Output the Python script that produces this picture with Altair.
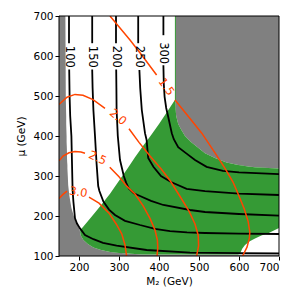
import altair as alt
import pandas as pd

# ---------------- axes ----------------
X_DOMAIN = [150, 700]
Y_DOMAIN = [100, 700]
X_TICKS = [200, 300, 400, 500, 600, 700]
Y_TICKS = [100, 200, 300, 400, 500, 600, 700]

# ---------------- regions ----------------
# white (allowed) region: at each mu, from left gray edge to right gray edge
white_mu = [103.5, 104, 106, 110, 115, 121, 130, 140, 150, 160, 165, 172, 185, 200, 220, 250,
            277, 300, 319, 320.5, 323, 327.5, 334, 345, 357, 374, 385, 400, 415, 430, 450,
            470, 500, 600, 700]
white_left = [380, 360, 320, 278, 255, 236, 222, 211, 205, 202.5, 202, 199, 192, 187, 181, 176,
              173, 172, 171, 171, 171, 171, 170.5, 170, 170, 169.5, 169, 169, 168.5, 168, 168,
              167.5, 167, 166.5, 166]
white_right = [700, 700, 700, 700, 700, 700, 700, 700, 700, 700, 700, 700, 700, 700, 700, 700,
               700, 700, 700, 660, 627, 598, 569, 540, 515, 494, 480, 465, 456, 448, 443,
               441, 441, 441, 441]

# green region: at each M2, from lower to upper edge
green_x = [203, 205, 211, 222, 236, 255, 278, 300, 320, 340, 360, 380, 400, 420, 441, 441.5,
           443, 448, 456, 465, 480, 494, 515, 540, 569, 598, 603, 608, 615, 627, 640, 656, 673, 700]
green_lo = [158, 150, 140, 130, 121, 115, 110, 107.5, 106, 105, 104, 103.5, 103.5, 103.5, 103.5,
            103.5, 103.5, 103.5, 103.5, 103.5, 103.5, 103.5, 103.5, 103.5, 103.5, 103.5, 107, 118,
            127.5, 137, 144, 151, 157, 170]
green_hi = [165, 167, 174, 187, 204, 227, 256, 288, 317, 347, 375, 402, 430, 460, 492, 468,
            450, 430, 415, 400, 385, 374, 357, 345, 334, 327.5, 327, 326, 325, 323, 322, 321, 320, 319]

green_edge_x = [441, 441]
green_edge_mu = [490, 700]

# ---------------- black contours (two segments each: above / below the label) ----------------
black = {
    "100": ([175, 175], [700, 632],
            [175.5, 176.5, 178, 181, 184, 186, 190, 195, 202.5, 215, 236, 260, 294, 369, 477.5, 600, 700],
            [566, 500, 450, 400, 265, 236, 194, 181, 169, 152.5, 142, 133, 126, 115, 108.5, 107, 106.5]),
    "150": ([233, 233], [700, 632],
            [233, 234, 236, 240, 244, 248, 251, 261, 275, 290, 315, 352.5, 390, 427.5, 470, 515, 600, 700],
            [566, 520, 465, 400, 330, 275, 262.5, 236, 216, 202.5, 188, 177.5, 168, 162, 159, 157.5, 156, 155]),
    "200": ([292.5, 292.5], [700, 632],
            [293, 293.5, 294, 297, 302.5, 312, 318, 325, 337, 352.5, 380, 410.8, 477.5, 515, 600, 700],
            [566, 520, 465, 400, 340, 300, 283, 268, 257, 250, 238, 227.5, 215, 210, 205, 201]),
    "250": ([348, 348], [700, 632],
            [351, 353, 357, 365, 369, 373, 386, 405, 430, 469, 515, 600, 700],
            [565, 520, 465, 407, 390, 345, 323, 300, 285, 268, 262, 256, 252.5]),
    "300": ([411, 411], [700, 652],
            [411, 412, 414, 418, 423, 428, 432, 437, 448, 469, 490, 519, 560, 600, 700],
            [577, 530, 498, 470, 448, 425, 407, 392, 372, 356, 340, 323, 313, 309, 304.5]),
}
black_label_x = [175, 233, 292.5, 349.5, 411]
black_label_mu = [598, 598, 598, 598, 607]
black_label_text = ["100", "150", "200", "250", "300"]

# ---------------- orange contours ----------------
orange = {
    "1.5": ([277.5, 327.5, 360, 394], [700, 640, 598, 552.5],
            [440, 475, 507, 540, 565, 585, 600, 613, 623, 627, 626, 620, 609],
            [490, 447, 407, 358, 319, 285, 250, 218, 186, 160, 145, 122, 100]),
    "2.0": ([150, 170, 190, 210, 235, 265], [479, 497, 504, 502, 491, 469],
            [325, 350, 377.5, 405, 428, 455, 475, 490, 498, 499, 494],
            [418, 384, 350, 318, 288, 245, 212, 180, 152, 125, 100]),
    "2.5": ([150, 160, 175, 190, 205, 215], [338, 350, 358, 361, 360, 357],
            [277, 300, 320, 340, 360, 377.5, 390, 396, 397, 395],
            [322, 298, 274, 255, 226, 194, 165, 140, 120, 100]),
    "3.0": ([150, 160, 170], [244, 254, 262],
            [225, 250, 275, 293, 307, 315, 319],
            [247, 232, 207, 180, 155, 128, 100]),
}
orange_label_x = [417, 296.5, 246, 198]
orange_label_mu = [522, 446, 344, 258]
orange_label_text = ["1.5", "2.0", "2.5", "3.0"]
orange_label_angle = [54, 40, 24, 10]

BLACK = "#000000"
ORANGE = "#ff4500"
GREEN = "#359a35"
GRAY = "#808080"

# ---------------- build tables ----------------
rows = []
for name, (x1, y1, x2, y2) in list(black.items()) + list(orange.items()):
    col = BLACK if name in black else ORANGE
    w = 1.8 if name in black else 1.5
    for s, (xs_, ys_) in enumerate([(x1, y1), (x2, y2)]):
        for i, (a, b) in enumerate(zip(xs_, ys_)):
            rows.append({"seg": f"{name}_{s}", "x": a, "mu": b, "i": i, "col": col, "w": w})
lines_df = pd.DataFrame(rows)

white_df = pd.DataFrame({"mu": white_mu, "xl": white_left, "xr": white_right})
green_df = pd.DataFrame({"x": green_x, "lo": green_lo, "hi": green_hi})
edge_df = pd.DataFrame({"x": green_edge_x, "mu": green_edge_mu, "i": [0, 1]})

labels_df = pd.DataFrame({
    "x": black_label_x + orange_label_x,
    "mu": black_label_mu + orange_label_mu,
    "t": black_label_text + orange_label_text,
    "angle": [90] * 5 + orange_label_angle,
    "col": [BLACK] * 5 + [ORANGE] * 4,
})
frame_df = pd.DataFrame({"x": [X_DOMAIN[0]], "x2": [X_DOMAIN[1]], "y": [Y_DOMAIN[0]], "y2": [Y_DOMAIN[1]]})

xs = alt.Scale(domain=X_DOMAIN, nice=False, zero=False)
ys = alt.Scale(domain=Y_DOMAIN, nice=False, zero=False)


def X(f):
    return alt.X(f, scale=xs, axis=alt.Axis(values=X_TICKS, title="M₂ (GeV)", format="d",
                                            labelOverlap=False, labelFlush=True))


def Y(f):
    return alt.Y(f, scale=ys, axis=alt.Axis(values=Y_TICKS, title="μ (GeV)", format="d",
                                            labelOverlap=False, labelFlush=False))


white = alt.Chart(white_df).mark_area(orient="horizontal", color="white").encode(
    y=Y("mu:Q"), x=X("xl:Q"), x2="xr:Q",
)
green = alt.Chart(green_df).mark_area(orient="vertical", color=GREEN).encode(
    x=X("x:Q"), y=Y("lo:Q"), y2="hi:Q",
)
edge = alt.Chart(edge_df).mark_line(color=GREEN, strokeWidth=1).encode(
    x=X("x:Q"), y=Y("mu:Q"), order="i:Q",
)
lines = alt.Chart(lines_df).mark_line(clip=True).encode(
    x=X("x:Q"), y=Y("mu:Q"),
    detail="seg:N",
    order="i:Q",
    color=alt.Color("col:N", scale=None),
    strokeWidth=alt.StrokeWidth("w:Q", scale=None),
)
labels = alt.Chart(labels_df).mark_text(font="DejaVu Sans", fontSize=11.5, align="center",
                                        baseline="middle").encode(
    x=X("x:Q"), y=Y("mu:Q"),
    text="t:N",
    angle=alt.Angle("angle:Q", scale=None),
    color=alt.Color("col:N", scale=None),
)
frame = alt.Chart(frame_df).mark_rect(filled=False, color="black", strokeWidth=1).encode(
    x=X("x:Q"), x2="x2:Q", y=Y("y:Q"), y2="y2:Q"
)

chart = alt.layer(white, green, edge, lines, labels, frame).properties(
    width=220, height=240,
    padding={"left": 51, "top": 8, "right": 5, "bottom": 34},
    autosize=alt.AutoSizeParams(type="none"),
).configure_view(fill=GRAY, stroke=None).configure_axis(
    grid=False, domain=False, tickColor="black", tickSize=4, labelPadding=2,
    labelFont="DejaVu Sans", labelFontSize=10.5, labelColor="black",
    labelOverlap=False,
    titleFont="DejaVu Sans", titleFontSize=10.5, titleFontWeight="normal", titleColor="black",
).configure_axisY(titlePadding=6)

chart.save("out.html", embed_options={"renderer": "svg", "actions": False})
